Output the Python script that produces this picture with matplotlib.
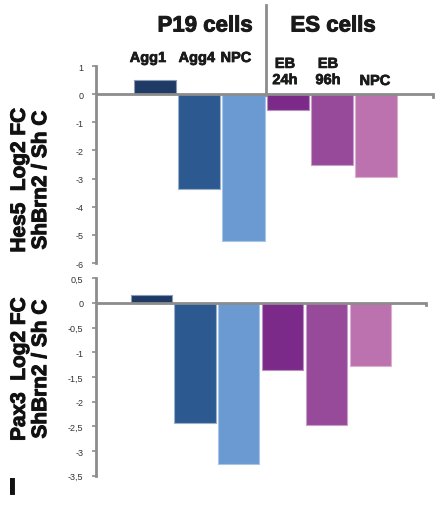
import matplotlib
matplotlib.use("Agg")
import matplotlib.pyplot as plt
import matplotlib.patheffects as pe
from matplotlib.lines import Line2D

plt.rcParams["font.family"] = ["Liberation Sans", "DejaVu Sans"]

# Data
conditions = ["Agg1", "Agg4", "NPC", "EB 24h", "EB 96h", "NPC"]
hes5_fc = [0.5, -3.38, -5.22, -0.58, -2.51, -2.94]
pax3_fc = [0.16, -2.44, -3.27, -1.35, -2.47, -1.28]
hes5_ticks = [1, 0, -1, -2, -3, -4, -5, -6]
pax3_ticks = [0.5, 0, -0.5, -1, -1.5, -2, -2.5, -3, -3.5]

bar_colors = ["#1f3a64", "#2c5a90", "#6a9ad1", "#7c2a8a", "#974a99", "#bc72ae"]
edge_colors = ["#8a9bb8", "#9bb0cc", "#a9c4e6", "#b790c0", "#c6a0c9", "#dab0d2"]
grey = "#8c8c8c"
ink = "#1a1a1a"
heavy = [pe.withStroke(linewidth=0.7, foreground=ink)]

W, H = 444, 506
fig = plt.figure(figsize=(W / 100, H / 100), dpi=100)


def fx(px):
    return px / W


def fy(py):
    return 1 - py / H


def fmt(v):
    if float(v).is_integer():
        return f"{int(v)}"
    return f"{v:g}".replace(".", ",")


def panel(rect, values, ticks, xlim, width, label, label_y):
    ax = fig.add_axes(rect)
    x = list(range(len(values)))
    ax.bar(x, values, width=width, color=bar_colors, edgecolor=edge_colors,
           linewidth=0.8, zorder=2)
    ax.set_xlim(*xlim)
    ax.set_ylim(ticks[-1], ticks[0])
    ax.axhline(0, color=grey, lw=2.0, zorder=3)
    # small end tick on the right of the zero line
    ax.plot([xlim[1], xlim[1]], [0, -(ticks[0] - ticks[-1]) * 0.012],
            color=grey, lw=2.0, zorder=3, clip_on=False)
    for s in ["top", "right", "bottom"]:
        ax.spines[s].set_visible(False)
    ax.spines["left"].set_color(grey)
    ax.spines["left"].set_linewidth(2.0)
    ax.set_xticks([])
    ax.set_yticks(ticks)
    ax.set_yticklabels([fmt(t) for t in ticks], fontsize=6.5)
    ax.tick_params(axis="y", direction="out", length=3, width=1.2,
                   color=grey, pad=6, labelcolor="#333333")
    fig.text(fx(30), fy(label_y), label, rotation=90, ha="center",
             va="center", fontsize=15, fontweight="bold", color="#111111",
             linespacing=1.15, path_effects=heavy)
    return ax


panel([fx(96), fy(264), fx(433) - fx(96), fy(67) - fy(264)],
      hes5_fc, hes5_ticks, (-1.33, 6.28), 0.95,
      "Hes5  Log2 FC\nShBrn2 / Sh C", 181)
panel([fx(96), fy(476.7), fx(426) - fx(96), fy(279.3) - fy(476.7)],
      pax3_fc, pax3_ticks, (-1.26, 6.27), 0.94,
      "Pax3  Log2 FC\nShBrn2 / Sh C", 370)

# group headers and divider
fig.text(fx(205), fy(27), "P19 cells", ha="center", va="center",
         fontsize=16, fontweight="bold", color=ink, path_effects=heavy)
fig.text(fx(333), fy(27), "ES cells", ha="center", va="center",
         fontsize=16, fontweight="bold", color=ink, path_effects=heavy)
fig.add_artist(Line2D([fx(266), fx(266)], [fy(6), fy(96)], color=grey,
                      lw=2.0, transform=fig.transFigure))

# condition labels
cond_pos = [(148, 59), (197, 59), (236, 59), (285, 73), (328, 73), (375, 82)]
cond_text = ["Agg1", "Agg4", "NPC", "EB\n24h", "EB\n96h", "NPC"]
for (px, py), t in zip(cond_pos, cond_text):
    fig.text(fx(px), fy(py), t, ha="center", va="center", fontsize=10.5,
             fontweight="bold", color=ink, linespacing=1.2,
             path_effects=[pe.withStroke(linewidth=0.5, foreground=ink)])

# next panel letter
fig.text(fx(12), fy(500), "I", ha="center", va="bottom", fontsize=17,
         fontweight="bold", color="#111111", path_effects=heavy)

fig.savefig("out.png", dpi=100)
